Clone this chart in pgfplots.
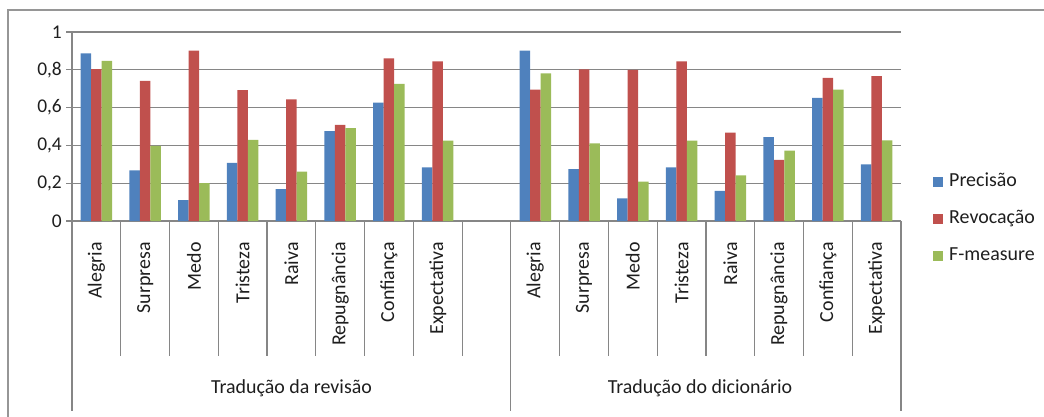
\documentclass[border=0pt]{standalone}
\usepackage{fontspec}
\setmainfont{Carlito}
\usepackage{pgfplots}
\pgfplotsset{compat=1.18}
\definecolor{cblue}{RGB}{79,129,189}
\definecolor{cred}{RGB}{192,80,77}
\definecolor{cgreen}{RGB}{155,187,89}
\definecolor{gridgray}{RGB}{134,134,134}
\definecolor{framegray}{RGB}{150,150,150}
\definecolor{txt}{RGB}{30,30,30}
\begin{document}
\begin{tikzpicture}[x=1bp,y=1bp]
\path[use as bounding box] (0,0) rectangle (1044,-416);
\draw[framegray, line width=2bp] (8,-417) -- (8,-10) -- (1045,-10);
\begin{axis}[
  at={(72bp,-221bp)}, anchor=south west,
  scale only axis, width=829bp, height=189bp,
  ybar=0pt, bar width=10.5bp,
  xmin=-0.5, xmax=16.5, ymin=0, ymax=1,
  ytick={0,0.2,0.4,0.6,0.8,1},
  yticklabels={0,{0,2},{0,4},{0,6},{0,8},1},
  ymajorgrids, grid style={gridgray, line width=1.2bp},
  axis lines*=left,
  axis line style={gridgray, line width=1.2bp},
  tick align=outside, major tick length=6bp,
  ytick style={gridgray, line width=1.2bp},
  xtick style={draw=none},
  xtick={0,...,16},
  xticklabels={Alegria,Surpresa,Medo,Tristeza,Raiva,Repugnância,Confiança,Expectativa,{},Alegria,Surpresa,Medo,Tristeza,Raiva,Repugnância,Confiança,Expectativa},
  xticklabel style={rotate=90, anchor=east, inner sep=0pt, font=\fontsize{20}{21}\selectfont, text=txt},
  xticklabel shift=15bp,
  yticklabel style={font=\fontsize{19.5}{20}\selectfont, text=txt, inner sep=0pt},
  yticklabel shift=4bp,
  legend image code/.code={\path[#1,draw=none] (0bp,-5bp) rectangle (10bp,5bp);},
  legend style={draw=none, fill=none, at={(1.0386,0.01)}, anchor=west, inner sep=0pt,
    font=\fontsize{20}{21}\selectfont, text=txt, row sep=18bp,
    nodes={inner sep=0pt, text height=14bp, text depth=5bp}},
  legend cell align=left,
]
\addplot[fill=cblue, draw=none] coordinates {
 (0,0.887) (1,0.268) (2,0.111) (3,0.308) (4,0.169) (5,0.476) (6,0.626) (7,0.284)
 (9,0.901) (10,0.275) (11,0.120) (12,0.284) (13,0.160) (14,0.444) (15,0.651) (16,0.300)};
\addplot[fill=cred, draw=none] coordinates {
 (0,0.804) (1,0.742) (2,0.901) (3,0.693) (4,0.644) (5,0.508) (6,0.861) (7,0.845)
 (9,0.695) (10,0.802) (11,0.799) (12,0.845) (13,0.467) (14,0.323) (15,0.757) (16,0.766)};
\addplot[fill=cgreen, draw=none] coordinates {
 (0,0.847) (1,0.398) (2,0.201) (3,0.429) (4,0.261) (5,0.492) (6,0.725) (7,0.425)
 (9,0.781) (10,0.411) (11,0.208) (12,0.425) (13,0.242) (14,0.372) (15,0.695) (16,0.427)};
\legend{\hspace{6bp}Precisão,\hspace{6bp}Revocação,\hspace{6bp}F-measure}
\end{axis}
\foreach \k in {1,...,8,10,11,...,16} {
  \draw[gridgray, line width=1.2bp] (72+\k*48.7647,-221) -- ++(0,-135);
}
\foreach \k in {0,9,17} {
  \draw[gridgray, line width=1.2bp] (72+\k*48.7647,-221) -- ++(0,-190);
}
\node[text=txt, font=\fontsize{20}{21}\selectfont] at (291.5,-388) {Tradução da revisão};
\node[text=txt, font=\fontsize{20}{21}\selectfont] at (700,-388) {Tradução do dicionário};
\end{tikzpicture}
\end{document}
